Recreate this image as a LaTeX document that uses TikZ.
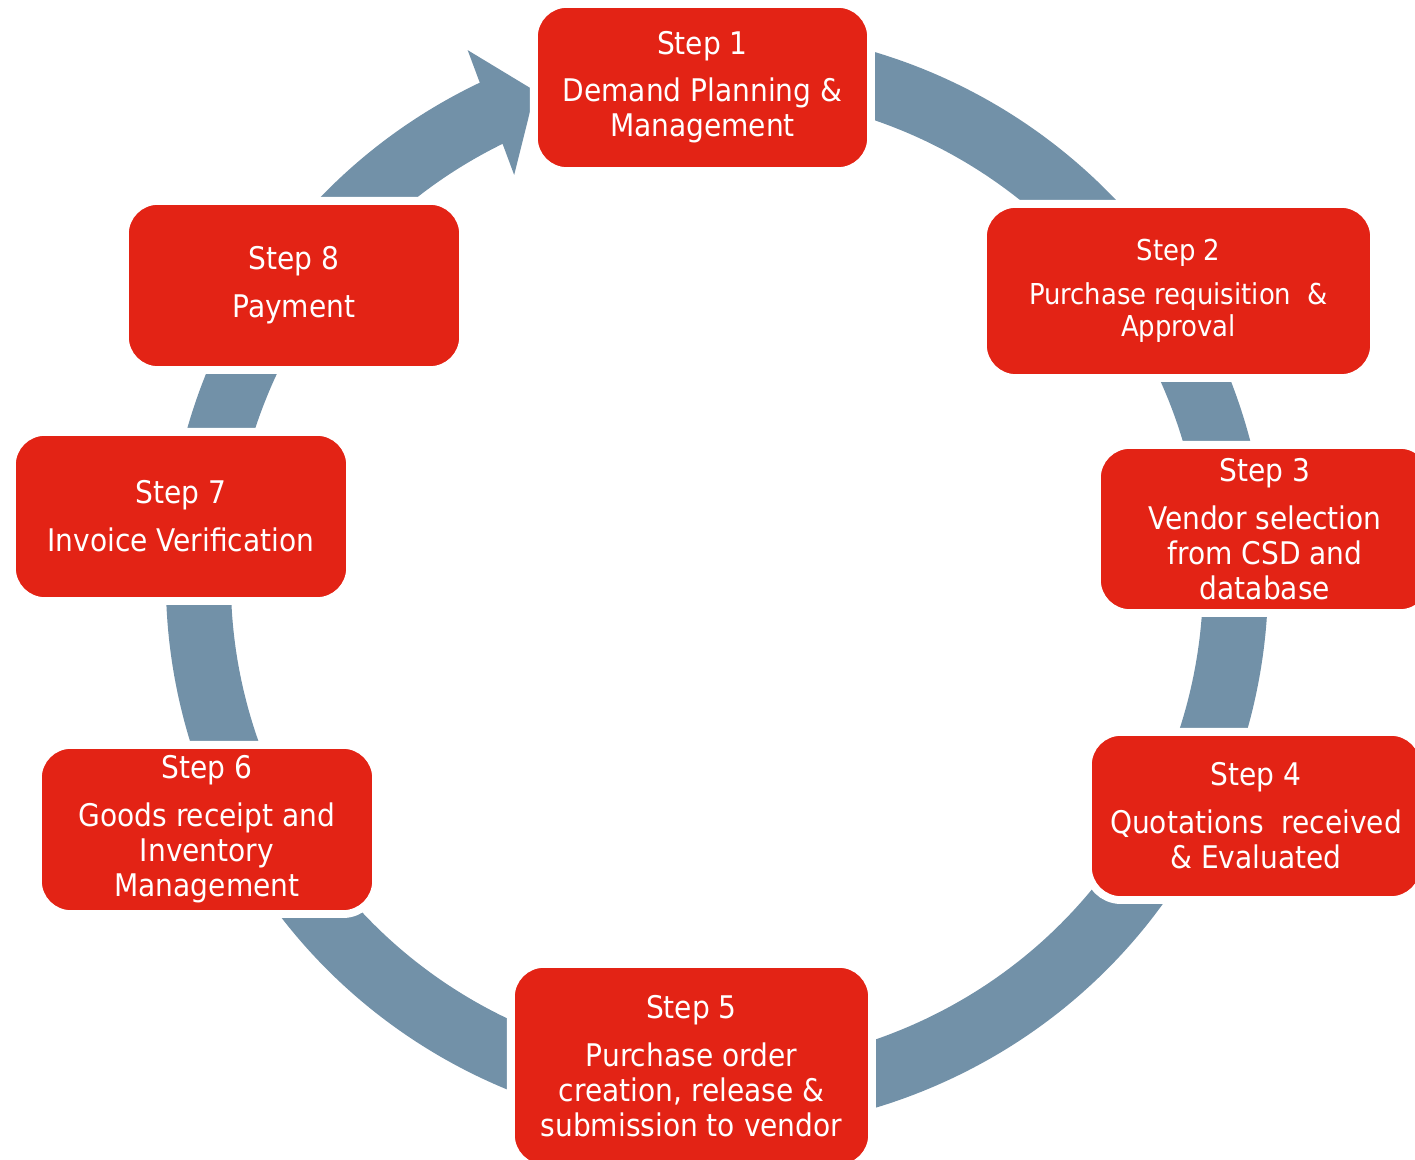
\documentclass[tikz,border=0pt]{standalone}
\usepackage{fontspec}
\setmainfont{DejaVu Sans Condensed}
\usetikzlibrary{positioning}

\definecolor{stepred}{RGB}{227,35,21}
\definecolor{ringblue}{RGB}{114,145,168}

\tikzset{
  stepbox/.style={rectangle, rounded corners=15pt, fill=stepred, draw=white, line width=0.8pt,
    preaction={draw=white, line width=7pt}, text=white, align=center, inner sep=0pt,
    minimum width=166pt, minimum height=81.5pt, font=\fontsize{15.6}{17.5}\selectfont},
}

\begin{document}
\begin{tikzpicture}[x=0.5pt, y=0.5pt]
% Page frame (origin at the centre of the ring)
\useasboundingbox (-717,-580) rectangle (698,580);

% Parameters
\def\rmid{518.5}  % mid radius of the ring
\def\rw{32.5pt}   % width of the ring

% Ring, open behind Step 1
\draw[ringblue, line width=\rw] (115:\rmid) arc[start angle=115, end angle=445, radius=\rmid];

% Arrow head into Step 1
\fill[ringblue] (115.2:585.6) -- (110.4:521.8) -- (116.6:453) -- cycle;

% The eight steps
\node[stepbox, minimum width=165.5pt, minimum height=80.5pt] (s1) at (-14.5,492.5)
  {Step 1\\[6pt]Demand Planning \&\\Management};
\node[stepbox, minimum width=192.5pt, minimum height=84pt, font=\fontsize{14.4}{16}\selectfont] (s2) at (461.5,289)
  {Step 2\\[6pt]Purchase requisition~ \&\\Approval};
\node[stepbox, minimum width=165pt, minimum height=81pt] (s3) at (548,51)
  {Step 3\\[6.5pt]Vendor selection\\from CSD and\\database};
\node[stepbox, minimum width=165pt, minimum height=81pt] (s4) at (539,-236)
  {Step 4\\[6.5pt]Quotations~ received\\\& Evaluated};
\node[stepbox, minimum width=177.5pt, minimum height=99pt] (s5) at (-25.5,-486)
  {Step 5\\[6.5pt]Purchase order\\creation, release \&\\submission to vendor};
\node[stepbox] (s6) at (-510,-249.5)
  {Step 6\\[6.5pt]Goods receipt and\\Inventory\\Management};
\node[stepbox] (s7) at (-536,63.5)
  {Step 7\\[6.5pt]Invoice Verification};
\node[stepbox] (s8) at (-423,294.5)
  {Step 8\\[6.5pt]Payment};

\end{tikzpicture}
\end{document}
